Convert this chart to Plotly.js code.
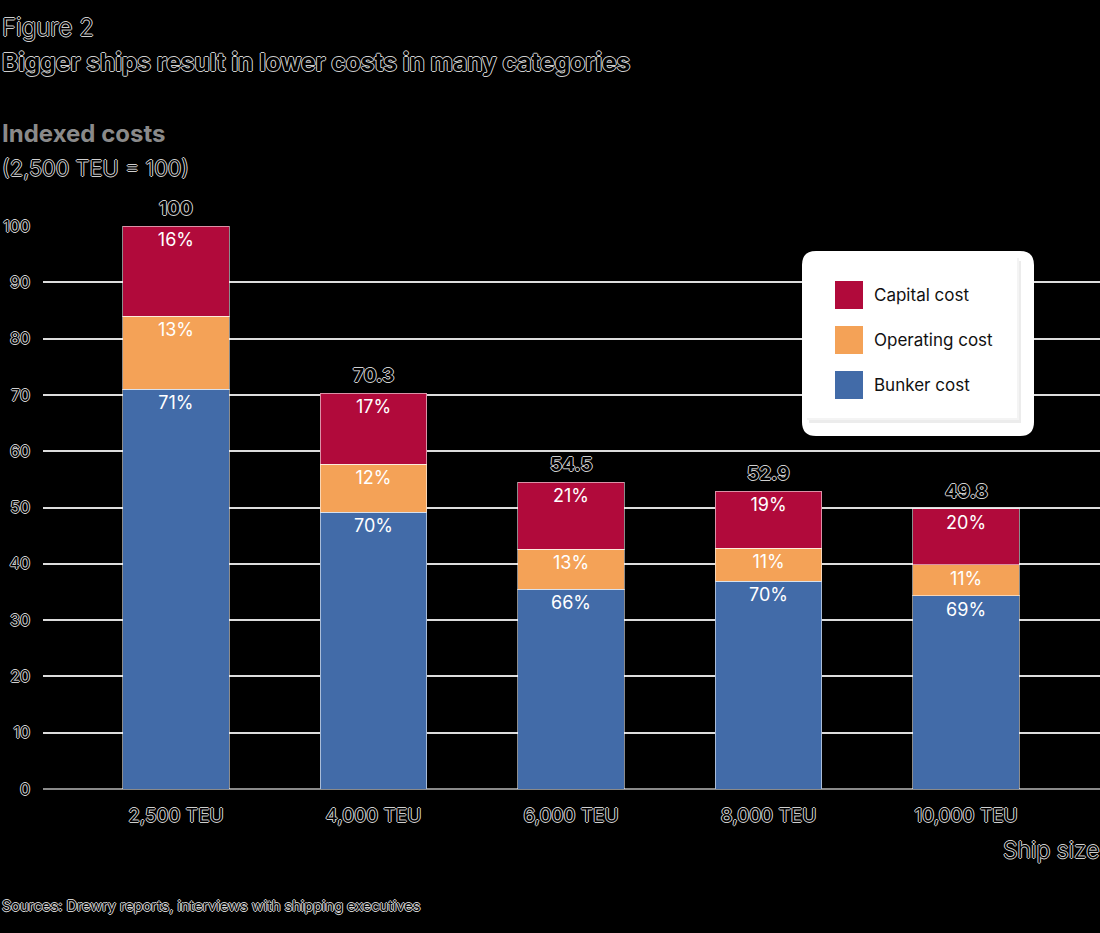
<!DOCTYPE html>
<html>
<head>
<meta charset="utf-8">
<script src="https://cdn.plot.ly/plotly-3.0.1.min.js"></script>
<style>html,body{margin:0;padding:0;background:#000;}</style>
</head>
<body>
<div id="chart" style="width:1100px;height:933px;"></div>
<script>
// ---- data ----
const categories = ["2,500 TEU", "4,000 TEU", "6,000 TEU", "8,000 TEU", "10,000 TEU"];
const bunkerCost = [71.0, 49.2, 35.5, 36.9, 34.3];
const operatingCost = [13.0, 8.5, 7.1, 5.9, 5.5];
const capitalCost = [16.0, 12.6, 11.9, 10.1, 10.0];
const bunkerPct = ["71%", "70%", "66%", "70%", "69%"];
const operatingPct = ["13%", "12%", "13%", "11%", "11%"];
const capitalPct = ["16%", "17%", "21%", "19%", "20%"];
const totals = [100, 70.3, 54.5, 52.9, 49.8];
const totalLabels = ["100", "70.3", "54.5", "52.9", "49.8"];
const yTicks = [0, 10, 20, 30, 40, 50, 60, 70, 80, 90, 100];
const seriesNames = ["Capital cost", "Operating cost", "Bunker cost"];

// ---- style ----
const C_CAP = "#B10A3B", C_OP = "#F4A257", C_BUNK = "#426BA8";
const FONT = "Inter, 'Open Sans', sans-serif";
const HALO = "1px 0 0 #cfcfcf, -1px 0 0 #cfcfcf, 0 1px 0 #cfcfcf, 0 -1px 0 #cfcfcf";
const W = 1100, H = 933;
const M = {l: 43, r: 0, t: 226, b: 144};
const PW = W - M.l - M.r, PH = H - M.t - M.b;
const px = x => (x - M.l) / PW;
const py = y => (H - M.b - y) / PH;

function barTrace(name, vals, txt, color) {
  return {
    type: "bar", name: name, x: categories, y: vals, text: txt,
    textposition: "inside", insidetextanchor: "end", textangle: 0,
    constraintext: "none",
    textfont: {family: FONT, size: 18, color: "#ffffff"},
    marker: {color: color, line: {color: "rgba(255,255,255,0.55)", width: 1}},
    width: 0.54, hoverinfo: "skip", showlegend: false
  };
}

const data = [
  barTrace(seriesNames[2], bunkerCost, bunkerPct, C_BUNK),
  barTrace(seriesNames[1], operatingCost, operatingPct, C_OP),
  barTrace(seriesNames[0], capitalCost, capitalPct, C_CAP)
];

const darkFont = (size, weight) => ({family: FONT, size: size, color: "#000", weight: weight, shadow: HALO});

const annotations = [];
// totals above bars
categories.forEach((c, i) => {
  annotations.push({x: c, y: totals[i], xref: "x", yref: "y", text: totalLabels[i],
    showarrow: false, yanchor: "bottom", yshift: 4, font: darkFont(19, 700)});
});
function pAnn(text, x, y, font, xanchor) {
  annotations.push({text: text, xref: "paper", yref: "paper", x: px(x), y: py(y),
    xanchor: xanchor || "left", yanchor: "middle", showarrow: false, font: font});
}
pAnn("Figure 2", 0, 28, darkFont(24, 300));
pAnn("Bigger ships result in lower costs in many categories", 0, 62, darkFont(24.5, 700));
pAnn("Indexed costs", 0, 133, {family: FONT, size: 24, color: "#8a8a8a", weight: 700});
pAnn("(2,500 TEU = 100)", 0, 168, darkFont(22, 300));
pAnn("Ship size", 1101, 850, darkFont(23, 300), "right");
pAnn("Sources: Drewry reports, interviews with shipping executives", 0, 906, darkFont(14.5, 400));

// legend (custom)
const shapes = [];
function rectShape(x0, y0, x1, y1, fill) {
  shapes.push({type: "rect", xref: "paper", yref: "paper", x0: px(x0), x1: px(x1), y0: py(y1), y1: py(y0),
    fillcolor: fill, line: {width: 0}, layer: "above"});
}
function roundRect(x0, y0, x1, y1, r, fill) {
  const X = v => px(v), Y = v => py(v);
  const path = `M ${X(x0 + r)} ${Y(y0)} L ${X(x1 - r)} ${Y(y0)} Q ${X(x1)} ${Y(y0)} ${X(x1)} ${Y(y0 + r)} ` +
    `L ${X(x1)} ${Y(y1 - r)} Q ${X(x1)} ${Y(y1)} ${X(x1 - r)} ${Y(y1)} L ${X(x0 + r)} ${Y(y1)} ` +
    `Q ${X(x0)} ${Y(y1)} ${X(x0)} ${Y(y1 - r)} L ${X(x0)} ${Y(y0 + r)} Q ${X(x0)} ${Y(y0)} ${X(x0 + r)} ${Y(y0)} Z`;
  shapes.push({type: "path", xref: "paper", yref: "paper", path: path, fillcolor: fill, line: {width: 0}, layer: "above"});
}
roundRect(802, 251, 1034, 436, 14, "#ffffff");
rectShape(809, 261, 1021, 423, "#ececec");
rectShape(807, 258, 1019, 420, "#f4f4f4");
rectShape(805, 256, 1017, 418, "#ffffff");
const legColors = [C_CAP, C_OP, C_BUNK];
const legY = [295, 340, 385];
seriesNames.forEach((n, i) => {
  rectShape(835, legY[i] - 14, 863, legY[i] + 14, legColors[i]);
  pAnn(n, 872, legY[i], {family: FONT, size: 17, color: "#111"});
});

const layout = {
  width: W, height: H, margin: M,
  paper_bgcolor: "#000", plot_bgcolor: "#000",
  barmode: "stack", bargap: 0.46, showlegend: false,
  font: {family: FONT},
  xaxis: {
    type: "category", range: [-0.673, 4.678], showgrid: false, zeroline: false,
    showline: false, ticks: "", ticklabelstandoff: 13, fixedrange: true,
    tickfont: darkFont(19, 400)
  },
  yaxis: {
    range: [0, 100], tickvals: yTicks, ticktext: yTicks.map(String),
    showgrid: true, gridcolor: "#dcdcdc", gridwidth: 2,
    zeroline: true, zerolinecolor: "#8a8a8a", zerolinewidth: 2,
    showline: false, ticks: "", ticklabelstandoff: 12, fixedrange: true,
    tickfont: darkFont(16, 400)
  },
  annotations: annotations,
  shapes: shapes
};

Plotly.newPlot("chart", data, layout, {displayModeBar: false, staticPlot: true});
</script>
</body>
</html>
